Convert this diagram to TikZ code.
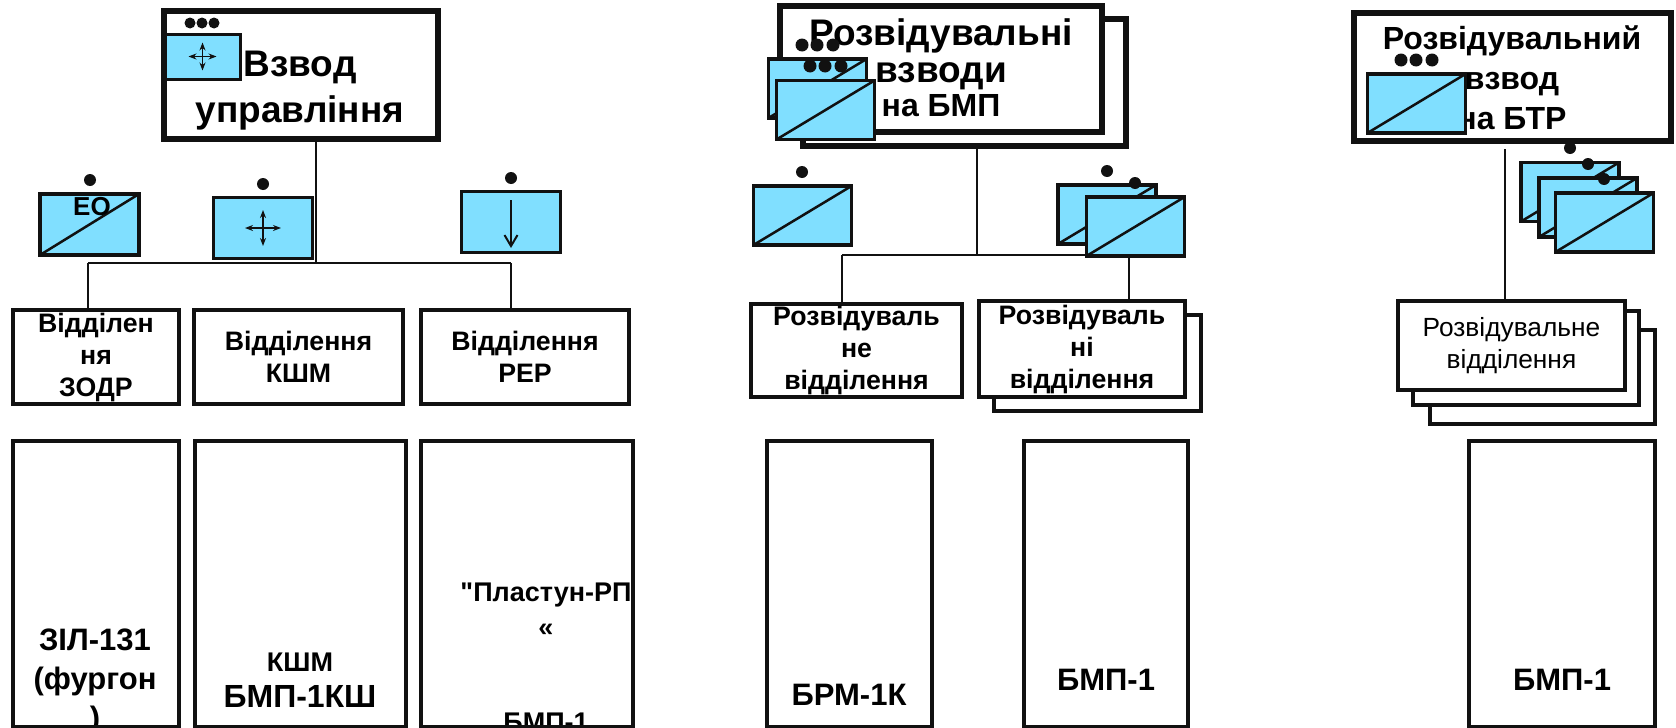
\documentclass[tikz,border=0pt]{standalone}
\usepackage{fontspec}
\setmainfont{Liberation Sans}[Ligatures=TeXOff]
\usetikzlibrary{
	arrows.meta,
	calc,
}
\definecolor{unitblue}{HTML}{80DFFF}
\definecolor{ink}{HTML}{111111}
\tikzset{platoon/.style={draw=ink,fill=white,line width=5.5pt,inner sep=0mm}}
\tikzset{section/.style={draw=ink,fill=white,line width=4pt,inner sep=0mm,align=center,font=\fontsize{26.7}{32}\selectfont\bfseries}}
\tikzset{vehicle/.style={draw=ink,line width=4pt,inner sep=0mm,minimum height=286pt}}
\tikzset{title/.style={align=center,inner sep=0mm,font=\fontsize{37}{46}\selectfont\bfseries}}
\tikzset{model/.style={align=center,inner sep=0mm,font=\fontsize{31}{39}\selectfont\bfseries}}
\tikzset{unit/.style={draw=ink,fill=unitblue,line width=3.5pt,inner sep=0mm,minimum width=98pt,minimum height=59pt}}
\tikzset{split/.style={unit,path picture={\draw[ink,line width=2.5pt] (path picture bounding box.south west) -- (path picture bounding box.north east);}}}
\tikzset{bullet/.style={fill=ink,circle,inner sep=0mm,minimum size=12pt}}
\tikzset{link/.style={ink,line width=2pt}}
\tikzset{cross/.style={ink,line width=1.5pt,{Stealth[length=8pt,width=6pt]}-{Stealth[length=8pt,width=6pt]}}}

\begin{document}
\begin{tikzpicture}[x=1pt,y=-1pt]
\useasboundingbox (0,0) rectangle (1676,728);

% first column
\node[platoon,minimum width=274pt,minimum height=128pt](ctrl) at (301,75){};
\node[title](ctrltext) at (300,91){Взвод\\управління};
\node[unit,minimum width=75pt,minimum height=45pt,line width=3pt](ctrlunit) at (202.5,56.5){};
\draw[cross,line width=1pt] ([xshift=-14pt]ctrlunit.center) -- ([xshift=14pt]ctrlunit.center);
\draw[cross,line width=1pt] ([yshift=-14pt]ctrlunit.center) -- ([yshift=14pt]ctrlunit.center);
\foreach \i/\x in {1/190,2/202,3/214}{
	\node[bullet,minimum size=11pt](ctrldot\i) at (\x,23){};
}

\node[split,minimum width=99pt,minimum height=61pt](eo) at (89.5,224.5){};
\node[inner sep=0mm,font=\fontsize{26}{30}\selectfont\bfseries](eotext) at (92,207){ЕО};
\node[bullet](eodot) at (90,180){};
\node[unit,minimum width=99pt,minimum height=61pt](kshm) at (263,228){};
\draw[cross] ([xshift=-18pt]kshm.center) -- ([xshift=18pt]kshm.center);
\draw[cross] ([yshift=-18pt]kshm.center) -- ([yshift=18pt]kshm.center);
\node[bullet](kshmdot) at (263,184){};
\node[unit,minimum width=99pt,minimum height=61pt](rep) at (511,222){};
\draw[-{Straight Barb[length=11pt,width=13pt]},ink,line width=2pt] ([yshift=22pt]rep.center) -- ([yshift=-26pt]rep.center);
\node[bullet](repdot) at (511,178){};

\node[section,minimum width=166pt,minimum height=94pt](secta1) at (96,357){Відділен\\ня\\ЗОДР};
\node[section,minimum width=209pt,minimum height=94pt](secta2) at (298.5,357){Відділення\\КШМ};
\node[section,minimum width=208pt,minimum height=94pt](secta3) at (525,357){Відділення\\РЕР};

\coordinate(busa) at (316,263);
\coordinate(busa1) at (88,263);
\coordinate(busa3) at (511,263);
\draw[link] (ctrl.south -| busa) -- (busa);
\draw[link] (busa1) -- (busa3);
\draw[link] (busa1) -- (busa1 |- secta1.north);
\draw[link] (busa3) -- (busa3 |- secta3.north);

\node[model](zil) at (95,682){ЗІЛ-131\\(фургон\\)};
\node[model,font=\fontsize{32}{38}\selectfont\bfseries](bmpk) at (300,680){\fontsize{27}{34}\selectfont КШМ\\[-2pt]БМП-1КШ};
\node[model,font=\fontsize{27}{35}\selectfont\bfseries,anchor=north](plast) at (546,583){"Пластун-РП\\«\\[60pt]БМП-1};
\node[vehicle,minimum width=166pt](veha1) at (96,584){};
\node[vehicle,minimum width=211pt](veha2) at (300.5,584){};
\node[vehicle,minimum width=212pt](veha3) at (527,584){};

% second column
\node[platoon,minimum width=323pt,minimum height=127pt](reconb) at (964.5,82.5){};
\node[platoon,minimum width=322pt,minimum height=126pt](recon) at (941,69){};
\node[title](recontext) at (941,68){Розвідувальні\\[-9pt]взводи\\[-12pt]\fontsize{32}{38}\selectfont на БМП};
\node[split](reconu1) at (817.5,88.5){};
\foreach \i/\x in {1/802,2/817,3/833}{
	\node[bullet,minimum size=13pt](recona\i) at (\x,45){};
}
\foreach \i/\x in {1/810,2/825,3/841}{
	\node[bullet,minimum size=13pt](reconb\i) at (\x,66){};
}
\node[split](reconu2) at (825.5,110){};

\node[split](brm) at (802.5,215.5){};
\node[bullet](brmdot) at (802,172){};
\node[split](bmpa) at (1107,214.5){};
\node[bullet](bmpadot) at (1107,171){};
\node[split](bmpb) at (1135.5,226.5){};
\node[bullet](bmpbdot) at (1135,183){};

\node[section,minimum width=207pt,minimum height=96pt](sectb3) at (1097.5,362.5){};
\node[section,minimum width=211pt,minimum height=93pt](sectb1) at (856.5,350.5){Розвідуваль\\не\\відділення};
\node[section,minimum width=206pt,minimum height=96pt](sectb2) at (1082,349){Розвідуваль\\ні\\відділення};

\coordinate(busb) at (977,255);
\coordinate(busb1) at (842,255);
\coordinate(busb2) at (1129,255);
\draw[link] (reconb.south -| busb) -- (busb);
\draw[link] (busb1) -- (bmpb.west |- busb);
\draw[link] (busb1) -- (busb1 |- sectb1.north);
\draw[link] (bmpb.south -| busb2) -- (busb2 |- sectb2.north);

\node[model](brmtext) at (849,695){БРМ-1К};
\node[model](bmptext) at (1106,680){БМП-1};
\node[vehicle,minimum width=165pt](vehb1) at (849,584){};
\node[vehicle,minimum width=164pt](vehb2) at (1106,584){};

% third column
\node[platoon,minimum width=317pt,minimum height=128pt](single) at (1512.5,77){};
\node[title,font=\fontsize{32}{40}\selectfont\bfseries](singletext) at (1512,78){Розвідувальний\\взвод\\на БТР};
\node[split](singleu) at (1416.5,103.5){};
\foreach \i/\x in {1/1401,2/1416,3/1432}{
	\node[bullet,minimum size=13pt](singledot\i) at (\x,60){};
}

\node[split](stacka) at (1570,192){};
\node[bullet](stackadot) at (1570,148){};
\node[split](stackb) at (1588,207.5){};
\node[bullet](stackbdot) at (1588,164){};
\node[split](stackc) at (1604.5,222.5){};
\node[bullet](stackcdot) at (1604,179){};

\node[section,minimum width=225pt,minimum height=94pt](sectc3) at (1542.5,377){};
\node[section,minimum width=226pt,minimum height=94pt](sectc2) at (1526,358){};
\node[section,minimum width=227pt,minimum height=89pt,font=\fontsize{26.3}{32}\selectfont](sectc1) at (1511.5,345.5){Розвідувальне\\відділення};

\coordinate(busc) at (1505,149);
\draw[link] (busc) -- (busc |- sectc1.north);

\node[model](bmpctext) at (1562,680){БМП-1};
\node[vehicle,minimum width=186pt](vehc) at (1562,584){};
\end{tikzpicture}
\end{document}
